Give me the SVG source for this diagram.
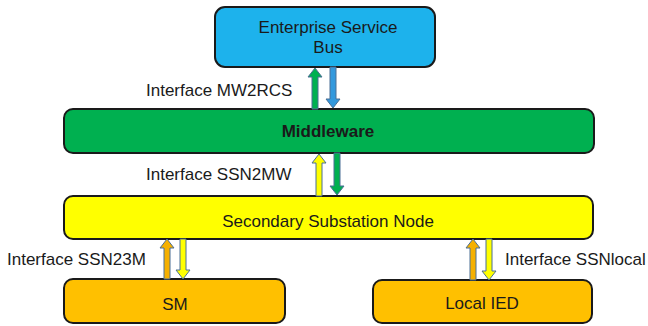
<svg xmlns="http://www.w3.org/2000/svg" width="648" height="326" viewBox="0 0 648 326">
<style>
.box{stroke:#1a1a1a;stroke-width:2}
.t{font-family:"Liberation Sans",Arial,sans-serif;font-size:17px;fill:#1a1a1a;text-anchor:middle}
.lbl{font-family:"Liberation Sans",Arial,sans-serif;font-size:17px;fill:#1a1a1a}
.arr{stroke:#4a6f95;stroke-width:1;stroke-linejoin:miter}
</style>
<rect width="648" height="326" fill="#ffffff"/>
<g id="esb">
<rect class="box" x="215" y="7" width="220" height="60" rx="10" fill="#1DB2EC"/>
<text class="t" x="328" y="33">Enterprise Service</text>
<text class="t" x="328" y="53">Bus</text>
</g>
<g id="middleware">
<rect class="box" x="64" y="109" width="530" height="44" rx="9" fill="#00B050"/>
<text class="t" x="328" y="137" font-weight="bold">Middleware</text>
</g>
<g id="ssn">
<rect class="box" x="64" y="196" width="529" height="43" rx="9" fill="#FFFF00"/>
<text class="t" x="328" y="227">Secondary Substation Node</text>
</g>
<g id="sm">
<rect class="box" x="64" y="279" width="221" height="44" rx="9" fill="#FFC000"/>
<text class="t" x="175" y="310">SM</text>
</g>
<g id="localied">
<rect class="box" x="373" y="280" width="219" height="43" rx="9" fill="#FFC000"/>
<text class="t" x="482" y="309">Local IED</text>
</g>
<g id="connectors">
<!-- ESB <-> Middleware -->
<path class="arr" fill="#00B050" d="M315,68 L322,77 L318,77 L318,109 L312,109 L312,77 L308,77 Z"/>
<path class="arr" fill="#3399DD" d="M333,108 L340,99 L336,99 L336,67 L330,67 L330,99 L326,99 Z"/>
<!-- Middleware <-> SSN -->
<path class="arr" fill="#FFFF00" d="M319,154 L326,163 L322,163 L322,196 L316,196 L316,163 L312,163 Z"/>
<path class="arr" fill="#00B050" d="M337,195 L344,186 L340,186 L340,153 L334,153 L334,186 L330,186 Z"/>
<!-- SSN <-> SM -->
<path class="arr" fill="#F5B000" d="M167,239 L174,248 L170,248 L170,279 L164,279 L164,248 L160,248 Z"/>
<path class="arr" fill="#FFFF00" d="M183,279 L190,270 L186,270 L186,239 L180,239 L180,270 L176,270 Z"/>
<!-- SSN <-> Local IED -->
<path class="arr" fill="#F5B000" d="M473,239 L480,248 L476,248 L476,280 L470,280 L470,248 L466,248 Z"/>
<path class="arr" fill="#FFFF00" d="M489,280 L496,271 L492,271 L492,239 L486,239 L486,271 L482,271 Z"/>
</g>
<g id="labels">
<text class="lbl" x="146" y="96">Interface MW2RCS</text>
<text class="lbl" x="146" y="180">Interface SSN2MW</text>
<text class="lbl" x="7" y="265">Interface SSN23M</text>
<text class="lbl" x="505" y="265">Interface SSNlocal</text>
</g>
</svg>
